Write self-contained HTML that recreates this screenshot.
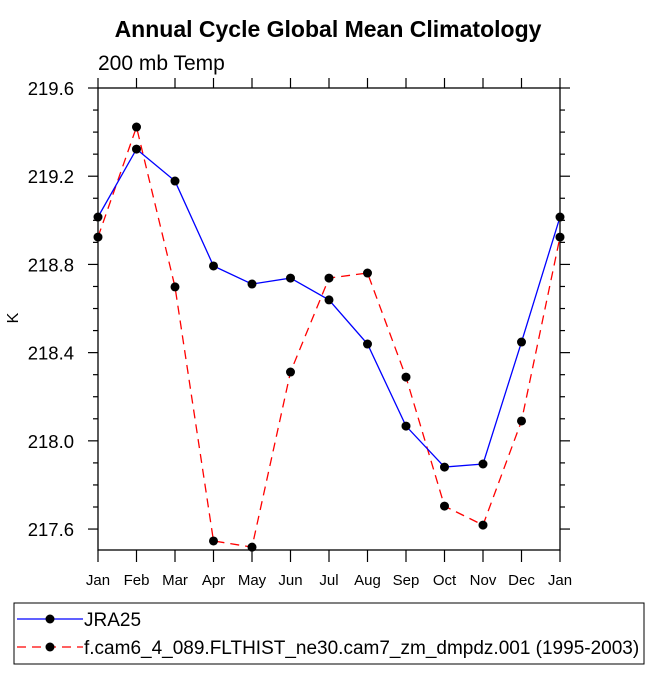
<!DOCTYPE html>
<html><head><meta charset="utf-8"><style>
body{margin:0;background:#fff;width:664px;height:683px;overflow:hidden}
svg{font-family:"Liberation Sans",Arial,sans-serif}
</style></head><body>
<svg id="chart" width="664" height="683">
<text x="328" y="37" text-anchor="middle" font-size="23" font-weight="bold">Annual Cycle Global Mean Climatology</text>
<text x="98" y="70" font-size="21">200 mb Temp</text>
<text x="18" y="318" font-size="16" text-anchor="middle" transform="rotate(-90 18 318)">K</text>
<g id="axes"></g><g id="series"></g>
<rect x="14" y="603" width="630" height="61" fill="none" stroke="#000" stroke-width="1"/>
<line x1="17" y1="619" x2="83" y2="619" stroke="#00f" stroke-width="1.3"/>
<circle cx="50" cy="619" r="4.5" fill="#000"/>
<text x="84" y="626" font-size="19">JRA25</text>
<line x1="17" y1="647" x2="83" y2="647" stroke="#f00" stroke-width="1.3" stroke-dasharray="9,6"/>
<circle cx="50" cy="647" r="4.5" fill="#000"/>
<text x="84" y="654" font-size="19">f.cam6_4_089.FLTHIST_ne30.cam7_zm_dmpdz.001 (1995-2003)</text>
</svg>
<script>
const months=["Jan","Feb","Mar","Apr","May","Jun","Jul","Aug","Sep","Oct","Nov","Dec","Jan"];
const jra25=[219.015,219.323,219.178,218.793,218.711,218.738,218.639,218.439,218.067,217.881,217.895,218.448,219.015];
const model=[218.924,219.423,218.698,217.546,217.518,218.312,218.738,218.761,218.289,217.704,217.618,218.090,218.924];
const yTicks=[217.6,218.0,218.4,218.8,219.2,219.6];
const yMin=217.505,yMax=219.6;
const L=98,R=560,T=88,B=550;
const xs=i=>L+(R-L)*i/(months.length-1);
const ys=v=>B-(v-yMin)/(yMax-yMin)*(B-T);
const NS="http://www.w3.org/2000/svg";
function mk(tag,attrs,parent){const e=document.createElementNS(NS,tag);for(const k in attrs)e.setAttribute(k,attrs[k]);parent.appendChild(e);return e;}
const ax=document.getElementById('axes'),se=document.getElementById('series');
const frame=mk('rect',{x:L,y:T,width:R-L,height:B-T,fill:'none',stroke:'#000','stroke-width':1.3},ax);


months.forEach((m,i)=>{const x=xs(i);
 const t1=mk('line',{x1:x,y1:B,x2:x,y2:B+12,stroke:'#000','stroke-width':1.2},ax);
 
 
 const t2=mk('line',{x1:x,y1:T,x2:x,y2:T-10,stroke:'#000','stroke-width':1.2},ax);
 
 
 const tx=mk('text',{x:x,y:B+35,'font-size':15,'text-anchor':'middle'},ax);tx.textContent=m;
 
 
});
for(let v=217.6;v<=219.61;v+=0.1){const y=ys(v);const major=yTicks.some(t=>Math.abs(t-v)<0.01);const len=major?10:5;
 const a=mk('line',{x1:L,y1:y,x2:L-len,y2:y,stroke:'#000','stroke-width':1.2},ax);
 
 
 const b=mk('line',{x1:R,y1:y,x2:R+len,y2:y,stroke:'#000','stroke-width':1.2},ax);
 
 
}
yTicks.forEach(v=>{const t=mk('text',{x:L-24,y:ys(v)+7,'font-size':18.5,'text-anchor':'end'},ax);t.textContent=v.toFixed(1);
 
 });
function series(data,color,dash,name){
 const p=mk('polyline',{points:data.map((v,i)=>xs(i)+','+ys(v)).join(' '),fill:'none',stroke:color,'stroke-width':1.3,'stroke-dasharray':dash},se);
 
 
 data.forEach((v,i)=>{const c=mk('circle',{cx:xs(i),cy:ys(v),r:4.5,fill:'#000'},se);
  
  });
}
series(model,'#f00','9,6','model');
series(jra25,'#00f','none','jra25');
</script>
</body></html>
